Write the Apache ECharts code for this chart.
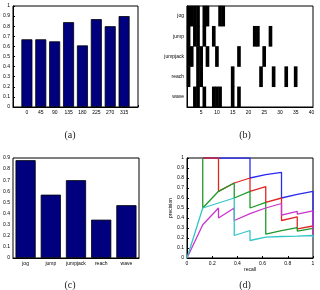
<!DOCTYPE html>
<html>
<head>
<meta charset="utf-8">
<script src="https://cdn.jsdelivr.net/npm/echarts@6/dist/echarts.min.js"></script>
<style>
  html, body { margin: 0; padding: 0; background: #fff; }
  #chart { width: 320px; height: 290px; }
</style>
</head>
<body>
<div id="chart"></div>
<script>
  // (a) accuracy per viewing angle
  var angleLabels = ['0', '45', '90', '135', '180', '225', '270', '315'];
  var angleAcc = [0.67, 0.67, 0.65, 0.84, 0.61, 0.87, 0.80, 0.90];

  // (b) frames where each action is detected (black cells)
  var actions = ['jog', 'jump', 'jumpjack', 'reach', 'wave'];
  var frames = ['1','2','3','4','5','6','7','8','9','10','11','12','13','14','15','16','17','18','19','20',
                '21','22','23','24','25','26','27','28','29','30','31','32','33','34','35','36','37','38','39','40'];
  var activeFrames = [
    [1, 2, 3, 4, 6, 7, 11, 12],
    [1, 3, 4, 6, 9, 22, 23, 27],
    [1, 2, 4, 5, 7, 10, 17, 25],
    [1, 4, 5, 15, 24, 28, 32, 35],
    [3, 4, 6, 9, 10, 11, 15, 17]
  ];

  // (c) accuracy per action
  var actionAcc = [0.88, 0.57, 0.70, 0.345, 0.475];

  // (d) precision / recall curves  [recall, precision]
  var prBlue = [[0.125, 1], [0.25, 1], [0.375, 1], [0.5, 1], [0.5, 0.8], [0.625, 0.833], [0.75, 0.857],
                [0.75, 0.6], [0.875, 0.636], [1, 0.667], [1, 0.2]];
  var prRed = [[0.125, 1], [0.25, 1], [0.25, 0.667], [0.375, 0.75], [0.5, 0.8], [0.5, 0.667], [0.625, 0.714],
               [0.625, 0.556], [0.75, 0.6], [0.75, 0.375], [0.875, 0.412], [0.875, 0.292], [1, 0.32], [1, 0.2]];
  var prGreen = [[0.125, 1], [0.125, 0.5], [0.25, 0.667], [0.375, 0.75], [0.375, 0.6], [0.5, 0.667], [0.5, 0.5],
                 [0.625, 0.556], [0.625, 0.238], [0.75, 0.273], [0.875, 0.304], [0.875, 0.269], [1, 0.296], [1, 0.2]];
  var prMagenta = [[0, 0], [0.125, 0.333], [0.25, 0.5], [0.25, 0.4], [0.375, 0.5], [0.375, 0.375], [0.5, 0.444],
                   [0.625, 0.5], [0.75, 0.545], [0.75, 0.429], [0.875, 0.467], [0.875, 0.438], [1, 0.471], [1, 0.2]];
  var prCyan = [[0, 0], [0.125, 0.5], [0.25, 0.55], [0.375, 0.6], [0.375, 0.225], [0.5, 0.275], [0.5, 0.175],
                [0.625, 0.208], [0.625, 0.192], [0.75, 0.215], [0.75, 0.2], [0.875, 0.218], [0.875, 0.206],
                [1, 0.225], [1, 0.2]];

  // 轴的公共样式
  function ax(extra) {
    var base = {
      axisLine: { lineStyle: { color: '#000', width: 1 } },
      axisTick: { inside: true, length: 2, lineStyle: { color: '#000' } },
      axisLabel: { fontSize: 5, color: '#000', margin: 3, fontFamily: 'Liberation Sans', hideOverlap: false },
      splitLine: { show: false }
    };
    for (var k in extra) {
      if (base[k] && typeof extra[k] === 'object' && !Array.isArray(extra[k])) {
        base[k] = Object.assign({}, base[k], extra[k]);
      } else {
        base[k] = extra[k];
      }
    }
    return base;
  }

  var box = { show: true, borderColor: '#000', borderWidth: 1, backgroundColor: '#fff' };

  var heatData = [];
  activeFrames.forEach(function (list, row) {
    list.forEach(function (f) { heatData.push([f - 1, row, 1]); });
  });

  var myChart = echarts.init(document.getElementById('chart'));
  myChart.setOption({
    animation: false,
    backgroundColor: '#fff',
    grid: [
      Object.assign({ left: 13, top: 6, width: 125, height: 101 }, box),
      Object.assign({ left: 187, top: 6, width: 126, height: 101 }, box),
      Object.assign({ left: 13, top: 158, width: 126, height: 100 }, box),
      Object.assign({ left: 187, top: 158, width: 126, height: 100 }, box)
    ],
    xAxis: [
      ax({ type: 'value', gridIndex: 0, min: 0, max: 9, interval: 1,
           axisLabel: { formatter: function (v) { return (v >= 1 && v <= 8) ? angleLabels[v - 1] : ''; } } }),
      ax({ type: 'category', gridIndex: 1, data: frames,
           axisTick: { alignWithLabel: true, interval: function (i) { return (i + 1) % 5 === 0; } },
           axisLabel: { interval: function (i) { return (i + 1) % 5 === 0; } } }),
      ax({ type: 'category', gridIndex: 2, data: actions, axisTick: { alignWithLabel: true },
           axisLabel: { interval: 0 } }),
      ax({ type: 'value', gridIndex: 3, min: 0, max: 1, interval: 0.2, name: 'recall',
           nameLocation: 'middle', nameGap: 8, nameTextStyle: { fontSize: 5, color: '#000' } })
    ],
    yAxis: [
      ax({ type: 'value', gridIndex: 0, min: 0, max: 1, interval: 0.1 }),
      ax({ type: 'category', gridIndex: 1, data: actions, inverse: true, axisTick: { alignWithLabel: true },
           axisLabel: { interval: 0 } }),
      ax({ type: 'value', gridIndex: 2, min: 0, max: 0.9, interval: 0.1 }),
      ax({ type: 'value', gridIndex: 3, min: 0, max: 1, interval: 0.1, name: 'precision',
           nameLocation: 'middle', nameGap: 10, nameRotate: 90, nameTextStyle: { fontSize: 5, color: '#000' } })
    ],
    visualMap: {
      show: false, seriesIndex: 1, min: 0, max: 1,
      inRange: { color: ['#000000', '#000000'] }
    },
    series: [
      {
        type: 'bar', xAxisIndex: 0, yAxisIndex: 0, barWidth: 11,
        data: angleAcc.map(function (v, i) { return [i + 1, v]; }),
        itemStyle: { color: '#00007f', borderColor: '#000', borderWidth: 0.8 }
      },
      {
        type: 'heatmap', xAxisIndex: 1, yAxisIndex: 1, data: heatData,
        emphasis: { disabled: true }
      },
      {
        type: 'bar', xAxisIndex: 2, yAxisIndex: 2, barWidth: '80%', data: actionAcc,
        itemStyle: { color: '#00007f', borderColor: '#000', borderWidth: 0.8 }
      },
      { type: 'line', xAxisIndex: 3, yAxisIndex: 3, data: prBlue, showSymbol: false,
        lineStyle: { color: '#2b2bf0', width: 1.3 }, itemStyle: { color: '#2b2bf0' } },
      { type: 'line', xAxisIndex: 3, yAxisIndex: 3, data: prRed, showSymbol: false,
        lineStyle: { color: '#e02424', width: 1.3 }, itemStyle: { color: '#e02424' } },
      { type: 'line', xAxisIndex: 3, yAxisIndex: 3, data: prGreen, showSymbol: false,
        lineStyle: { color: '#1f9a2a', width: 1.3 }, itemStyle: { color: '#1f9a2a' } },
      { type: 'line', xAxisIndex: 3, yAxisIndex: 3, data: prMagenta, showSymbol: false,
        lineStyle: { color: '#cc33cc', width: 1.3 }, itemStyle: { color: '#cc33cc' } },
      { type: 'line', xAxisIndex: 3, yAxisIndex: 3, data: prCyan, showSymbol: false,
        lineStyle: { color: '#33c6c6', width: 1.3 }, itemStyle: { color: '#33c6c6' } }
    ],
    graphic: [
      { type: 'text', x: 70, y: 135, style: { text: '(a)', font: '10px "Liberation Serif"', fill: '#222', textAlign: 'center', textVerticalAlign: 'middle' } },
      { type: 'text', x: 245, y: 135, style: { text: '(b)', font: '10px "Liberation Serif"', fill: '#222', textAlign: 'center', textVerticalAlign: 'middle' } },
      { type: 'text', x: 70, y: 285, style: { text: '(c)', font: '10px "Liberation Serif"', fill: '#222', textAlign: 'center', textVerticalAlign: 'middle' } },
      { type: 'text', x: 245, y: 285, style: { text: '(d)', font: '10px "Liberation Serif"', fill: '#222', textAlign: 'center', textVerticalAlign: 'middle' } }
    ]
  });
</script>
</body>
</html>
